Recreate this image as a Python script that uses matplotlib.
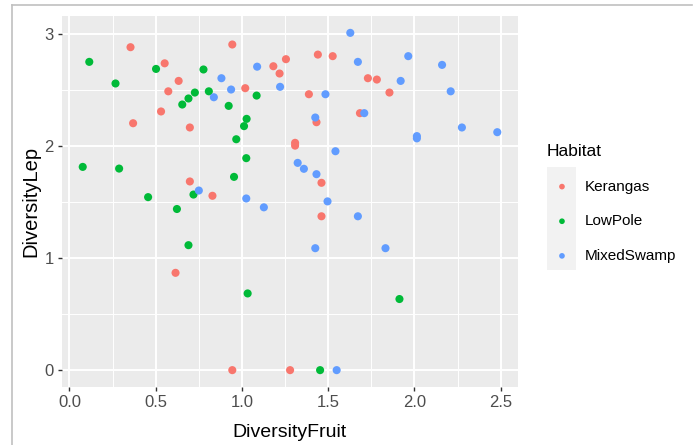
import numpy as np
import matplotlib
matplotlib.use("Agg")
import matplotlib.pyplot as plt
from matplotlib.lines import Line2D
from matplotlib.patches import Rectangle
from matplotlib.ticker import MultipleLocator

plt.rcParams['font.family'] = ['Liberation Sans', 'DejaVu Sans']

# fruit vs lepidoptera diversity per plot, grouped by habitat
habitats = ["Kerangas", "LowPole", "MixedSwamp"]
colors = ["#F8766D", "#00BA38", "#619CFF"]

kerangas_fruit = [0.354, 0.369, 0.552, 0.633, 0.573, 0.531, 0.698, 0.944, 1.019, 1.182,
                  1.218, 1.255, 0.698, 0.829, 1.440, 1.526, 1.730, 1.782, 1.855, 1.388,
                  1.684, 1.432, 1.308, 1.308, 1.461, 1.461, 1.279, 0.615, 0.944]
kerangas_lep = [2.884, 2.205, 2.740, 2.583, 2.490, 2.310, 2.167, 2.908, 2.518, 2.714,
                2.649, 2.777, 1.685, 1.557, 2.818, 2.804, 2.607, 2.595, 2.479, 2.464,
                2.295, 2.214, 2.030, 2.005, 1.673, 1.374, 0.0, 0.869, 0.0]

lowpole_fruit = [0.115, 0.267, 0.077, 0.288, 0.502, 0.654, 0.690, 0.727, 0.777, 0.808,
                 0.923, 1.085, 1.027, 1.012, 0.967, 1.025, 0.954, 0.719, 0.456, 0.623,
                 0.690, 1.033, 1.913, 1.453]
lowpole_lep = [2.753, 2.560, 1.815, 1.800, 2.690, 2.372, 2.426, 2.479, 2.685, 2.490,
               2.360, 2.452, 2.244, 2.179, 2.062, 1.893, 1.726, 1.568, 1.545, 1.439,
               1.116, 0.685, 0.635, 0.0]

swamp_fruit = [0.881, 0.837, 0.937, 1.088, 1.221, 0.750, 1.025, 1.628, 1.672, 1.964,
               2.160, 1.920, 2.210, 1.484, 1.709, 1.425, 2.275, 2.480, 2.014, 2.014,
               1.542, 1.323, 1.359, 1.432, 1.496, 1.672, 1.425, 1.832, 1.549, 1.127]
swamp_lep = [2.607, 2.437, 2.506, 2.710, 2.530, 1.604, 1.533, 3.012, 2.753, 2.804,
             2.726, 2.583, 2.490, 2.464, 2.295, 2.256, 2.167, 2.125, 2.090, 2.070,
             1.955, 1.851, 1.798, 1.750, 1.507, 1.374, 1.089, 1.089, 0.0, 1.454]

groups = [(kerangas_fruit, kerangas_lep), (lowpole_fruit, lowpole_lep), (swamp_fruit, swamp_lep)]

W, H = 697, 445
fig = plt.figure(figsize=(W / 100, H / 100), dpi=100)
ax = fig.add_axes([62 / W, 58 / H, 456 / W, 371 / H])
ax.set_facecolor("#EBEBEB")
for sp in ax.spines.values():
    sp.set_visible(False)

for name, col, (fx, fy) in zip(habitats, colors, groups):
    ax.scatter(fx, fy, s=34, color=col, edgecolors="none", label=name, zorder=3)

# ggplot style 5% expansion of the data range
allx = np.concatenate([g[0] for g in groups])
ally = np.concatenate([g[1] for g in groups])
dx = (allx.max() - allx.min()) * 0.05
dy = (ally.max() - ally.min()) * 0.05
ax.set_xlim(allx.min() - dx, allx.max() + dx)
ax.set_ylim(ally.min() - dy, ally.max() + dy)

ax.xaxis.set_minor_locator(MultipleLocator(0.25))
ax.yaxis.set_minor_locator(MultipleLocator(0.5))
ax.set_xticks([0, 0.5, 1, 1.5, 2, 2.5])
ax.set_xticklabels(["0.0", "0.5", "1.0", "1.5", "2.0", "2.5"])
ax.set_yticks([0, 1, 2, 3])
ax.set_yticklabels(["0", "1", "2", "3"])
ax.grid(which="major", color="white", lw=1.4)
ax.grid(which="minor", color="white", lw=0.7)
ax.set_axisbelow(True)
ax.tick_params(which="major", length=3, width=1.0, color="#333333",
               labelcolor="#4D4D4D", labelsize=12, pad=3)
ax.tick_params(which="minor", length=0)

ax.set_xlabel("DiversityFruit", fontsize=14, color="black", labelpad=10)
ax.set_ylabel("DiversityLep", fontsize=14.5, color="black", labelpad=3)

# legend with grey key background
fig.patches.append(Rectangle((547 / W, 1 - 270 / H), 29 / W, 103 / H,
                             transform=fig.transFigure, facecolor="#F2F2F2",
                             edgecolor="none", zorder=0))
leg = fig.legend(loc="upper left", bbox_to_anchor=(547 / W, 1 - 144 / H),
                 frameon=False, title="Habitat", fontsize=11, title_fontsize=12.5,
                 markerscale=0.7, handlelength=1.96, handletextpad=0.52,
                 labelspacing=1.35, borderpad=0, borderaxespad=0)
leg._legend_box.align = "left"

# screenshot frame
fig.add_artist(Line2D([11.5 / W, 11.5 / W], [0, 1 - 5 / H], transform=fig.transFigure,
                      color="#C0C0C0", lw=1.2))
fig.add_artist(Line2D([11.5 / W, 692 / W], [1 - 5 / H, 1 - 5 / H], transform=fig.transFigure,
                      color="#C0C0C0", lw=1.2))

fig.savefig("out.png", dpi=100)
